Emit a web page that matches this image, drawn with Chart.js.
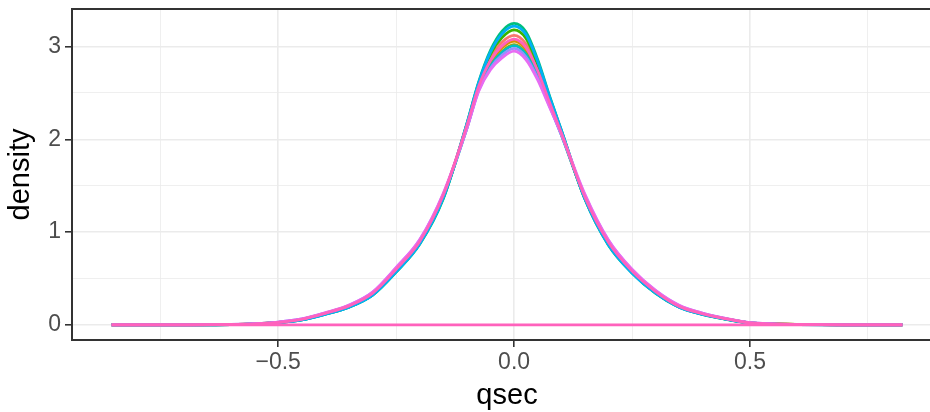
<!DOCTYPE html>
<html>
<head>
<meta charset="utf-8">
<script src="https://cdn.jsdelivr.net/npm/chart.js@4"></script>
<style>
  html, body { margin: 0; padding: 0; background: #fff; overflow: hidden; }
  #wrap { width: 942px; height: 412px; }
</style>
</head>
<body>
<div id="wrap"><canvas id="myChart"></canvas></div>
<script>
// density estimates (x in qsec units)
var xGrid = [-0.853, -0.7, -0.6, -0.55, -0.5, -0.45, -0.4, -0.35, -0.3, -0.25, -0.2, -0.15, -0.1, -0.075, -0.05, -0.025, 0,
  0.025, 0.05, 0.075, 0.1, 0.15, 0.2, 0.25, 0.3, 0.35, 0.4, 0.45, 0.5, 0.55, 0.6, 0.7, 0.823];

var groupNames = ["1", "2", "3", "4", "5", "6", "7", "8", "9", "10"];
var groupColors = ["#F8766D", "#D89000", "#A3A500", "#39B600", "#00BF7D", "#00BFC4", "#00B0F6", "#9590FF", "#E76BF3", "#FF62BC"];

var dens1 = [0, 0.001, 0.005, 0.012, 0.027, 0.058, 0.122, 0.2, 0.335, 0.59, 0.89, 1.39, 2.15, 2.58, 2.88, 3.05, 3.12, 3.03, 2.77, 2.42, 2.08, 1.37, 0.88, 0.575, 0.355, 0.2, 0.118, 0.063, 0.022, 0.01, 0.005, 0.001, 0];
var dens2 = [0, 0.001, 0.005, 0.012, 0.028, 0.06, 0.124, 0.204, 0.338, 0.6, 0.9, 1.4, 2.14, 2.56, 2.83, 2.99, 3.06, 2.97, 2.72, 2.39, 2.06, 1.38, 0.89, 0.58, 0.36, 0.2, 0.12, 0.065, 0.022, 0.01, 0.005, 0.001, 0];
var dens3 = [0, 0.001, 0.005, 0.012, 0.028, 0.06, 0.125, 0.205, 0.34, 0.6, 0.9, 1.4, 2.13, 2.55, 2.8, 2.95, 3.02, 2.93, 2.69, 2.38, 2.06, 1.38, 0.89, 0.58, 0.36, 0.2, 0.12, 0.065, 0.022, 0.01, 0.005, 0.001, 0];
var dens4 = [0, 0.001, 0.004, 0.011, 0.026, 0.056, 0.118, 0.195, 0.325, 0.575, 0.88, 1.37, 2.16, 2.6, 2.92, 3.1, 3.18, 3.09, 2.81, 2.45, 2.09, 1.36, 0.87, 0.565, 0.345, 0.195, 0.115, 0.062, 0.021, 0.01, 0.005, 0.001, 0];
var dens5 = [0, 0.001, 0.004, 0.011, 0.025, 0.054, 0.115, 0.19, 0.32, 0.57, 0.87, 1.36, 2.17, 2.62, 2.96, 3.17, 3.25, 3.16, 2.86, 2.47, 2.1, 1.36, 0.86, 0.56, 0.34, 0.19, 0.112, 0.06, 0.02, 0.009, 0.004, 0.001, 0];
var dens6 = [0, 0.001, 0.004, 0.011, 0.025, 0.055, 0.116, 0.192, 0.322, 0.575, 0.88, 1.39, 2.12, 2.54, 2.79, 2.94, 3.01, 2.92, 2.68, 2.37, 2.05, 1.37, 0.87, 0.565, 0.345, 0.19, 0.114, 0.061, 0.021, 0.009, 0.004, 0.001, 0];
var dens7 = [0, 0.001, 0.004, 0.011, 0.025, 0.055, 0.116, 0.192, 0.322, 0.572, 0.875, 1.37, 2.17, 2.61, 2.94, 3.14, 3.22, 3.13, 2.84, 2.46, 2.1, 1.36, 0.865, 0.56, 0.345, 0.192, 0.113, 0.061, 0.021, 0.009, 0.004, 0.001, 0];
var dens8 = [0, 0.001, 0.005, 0.013, 0.03, 0.064, 0.13, 0.212, 0.35, 0.615, 0.915, 1.41, 2.12, 2.53, 2.77, 2.91, 2.98, 2.89, 2.66, 2.36, 2.05, 1.4, 0.91, 0.595, 0.37, 0.21, 0.125, 0.068, 0.024, 0.011, 0.005, 0.001, 0];
var dens9 = [0, 0.001, 0.005, 0.013, 0.031, 0.065, 0.132, 0.215, 0.355, 0.62, 0.92, 1.42, 2.12, 2.52, 2.75, 2.88, 2.95, 2.86, 2.64, 2.35, 2.06, 1.41, 0.915, 0.6, 0.372, 0.212, 0.126, 0.069, 0.024, 0.011, 0.005, 0.001, 0];
var dens10 = [0, 0.001, 0.005, 0.012, 0.028, 0.06, 0.125, 0.205, 0.34, 0.6, 0.9, 1.4, 2.15, 2.57, 2.85, 3.01, 3.08, 2.99, 2.74, 2.4, 2.07, 1.38, 0.89, 0.58, 0.36, 0.2, 0.12, 0.065, 0.022, 0.01, 0.005, 0.001, 0];
var densities = [dens1, dens2, dens3, dens4, dens5, dens6, dens7, dens8, dens9, dens10];

// baseline drawn by the last group along the whole range
var baseX = [-0.853, 0.823];
var baseY = [0, 0];

var xTicks = [-0.75, -0.5, -0.25, 0, 0.25, 0.5, 0.75];
var xMajor = [-0.5, 0, 0.5];
var yTicks = [0, 0.5, 1, 1.5, 2, 2.5, 3];
var yMajor = [0, 1, 2, 3];

var fontFamily = "Liberation Sans, Arial, sans-serif";

function toPoints(xs, ys) {
  return xs.map(function (x, i) { return { x: x, y: ys[i] }; });
}

var datasets = densities.map(function (d, i) {
  return {
    label: groupNames[i],
    data: toPoints(xGrid, d),
    borderColor: groupColors[i],
    borderWidth: 2.8,
    pointRadius: 0,
    fill: false,
    cubicInterpolationMode: "monotone",
    order: densities.length - i + 1
  };
});
datasets.push({
  label: "base",
  data: toPoints(baseX, baseY),
  borderColor: groupColors[9],
  borderWidth: 2.8,
  pointRadius: 0,
  fill: false,
  order: 0
});

function isMajor(list, v) {
  return list.some(function (m) { return Math.abs(m - v) < 1e-9; });
}

// panel frame on top like theme_bw
var framePlugin = {
  id: "frame",
  afterDatasetsDraw: function (chart) {
    var a = chart.chartArea, c = chart.ctx;
    c.save();
    c.strokeStyle = "#333333";
    c.lineWidth = 2;
    c.strokeRect(a.left, a.top, a.right - a.left, a.bottom - a.top);
    c.restore();
  }
};

var ctx = document.getElementById("myChart").getContext("2d");
var myChart = new Chart(ctx, {
  type: "line",
  data: { datasets: datasets },
  plugins: [framePlugin],
  options: {
    responsive: true,
    maintainAspectRatio: false,
    animation: false,
    layout: { padding: { top: 9, left: 0, right: 0, bottom: 0 } },
    plugins: { legend: { display: false }, tooltip: { enabled: false } },
    scales: {
      x: {
        type: "linear",
        min: -0.937,
        max: 0.907,
        afterBuildTicks: function (scale) {
          scale.ticks = xTicks.map(function (v) { return { value: v }; });
        },
        afterFit: function (scale) {
          scale.height = 72;
          scale.paddingLeft = 0;
          scale.paddingRight = 0;
        },
        border: { display: false },
        grid: {
          color: "#EBEBEB",
          lineWidth: function (c) { return isMajor(xMajor, c.tick.value) ? 1.6 : 0.8; },
          tickColor: function (c) { return isMajor(xMajor, c.tick.value) ? "#333333" : "rgba(0,0,0,0)"; },
          tickWidth: 1.6,
          tickLength: 7
        },
        ticks: {
          autoSkip: false,
          maxRotation: 0,
          padding: 2,
          color: "#4D4D4D",
          font: { family: fontFamily, size: 23 },
          callback: function (v) {
            if (!isMajor(xMajor, v)) return "";
            return v < 0 ? "\u2212" + Math.abs(v).toFixed(1) : v.toFixed(1);
          }
        },
        title: {
          display: true,
          text: "qsec",
          color: "#000000",
          padding: { top: 0, bottom: -1 },
          font: { family: fontFamily, size: 29 }
        }
      },
      y: {
        type: "linear",
        min: -0.1625,
        max: 3.405,
        afterBuildTicks: function (scale) {
          scale.ticks = yTicks.map(function (v) { return { value: v }; });
        },
        afterFit: function (scale) {
          scale.width = 72;
          scale.paddingTop = 0;
          scale.paddingBottom = 0;
        },
        border: { display: false },
        grid: {
          color: "#EBEBEB",
          lineWidth: function (c) { return isMajor(yMajor, c.tick.value) ? 1.6 : 0.8; },
          tickColor: function (c) { return isMajor(yMajor, c.tick.value) ? "#333333" : "rgba(0,0,0,0)"; },
          tickWidth: 1.6,
          tickLength: 7
        },
        ticks: {
          autoSkip: false,
          padding: 4,
          color: "#4D4D4D",
          font: { family: fontFamily, size: 23 },
          callback: function (v) { return isMajor(yMajor, v) ? String(v) : ""; }
        },
        title: {
          display: true,
          text: "density",
          color: "#000000",
          padding: { top: 4, bottom: 0 },
          font: { family: fontFamily, size: 29 }
        }
      }
    }
  }
});
</script>
</body>
</html>
